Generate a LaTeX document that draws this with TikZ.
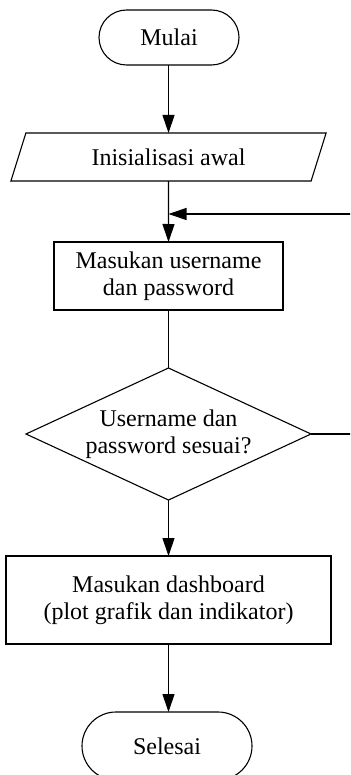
\documentclass[tikz,border=0pt]{standalone}
\usepackage{fontspec}
\setmainfont{Liberation Serif}
\usetikzlibrary{arrows.meta,shapes.misc,shapes.geometric}
\begin{document}
\begin{tikzpicture}[x=0.5pt,y=-0.5pt,
  line width=0.55pt,
  every node/.style={font=\fontsize{12}{13.4}\selectfont, align=center, inner sep=0pt, outer sep=0pt},
  term/.style={draw, rounded rectangle, minimum height=27.5pt},
  proc/.style={draw, rectangle},
  io/.style={draw, trapezium, trapezium left angle=64.4, trapezium right angle=115.6, trapezium stretches=true},
  arr/.style={-{Triangle[length=9pt,width=6pt]}},
]
\clip (0,0) rectangle (350,775);
\node[term, minimum width=70pt] (mulai) at (169,37.5) {Mulai};
\node[io, minimum width=158.5pt, minimum height=24pt] (init) at (168.5,157) {Inisialisasi awal};
\coordinate (j) at (168.5,214);
\node[proc, minimum width=114.5pt, minimum height=34pt] (user) at (168.5,276) {Masukan username\\dan password};
\node[minimum width=142.5pt, minimum height=66pt] (dia) at (168.5,434) {Username dan\\password sesuai?};
\draw (dia.north) -- (dia.east) -- (dia.south) -- (dia.west) -- cycle;
\node[proc, minimum width=162.5pt, minimum height=44pt] (dash) at (168.5,600) {Masukan dashboard\\(plot grafik dan indikator)};
\node[term, minimum width=85pt, minimum height=34pt] (selesai) at (167,746) {Selesai};
\coordinate (loopR) at (356,434);
\coordinate (loopT) at (356,214);

\draw[arr] (mulai.south -| init.north) -- (init.north);
\draw[arr] (init.south) -- (user.north);
\draw (user.south) -- (dia.north);
\draw[arr] (dia.south) -- (dash.north);
\draw[arr] (dash.south) -- (dash.south |- selesai.north);
\draw[arr] (dia.east) -- (loopR) -- (loopT) -- (j);
\end{tikzpicture}
\end{document}
